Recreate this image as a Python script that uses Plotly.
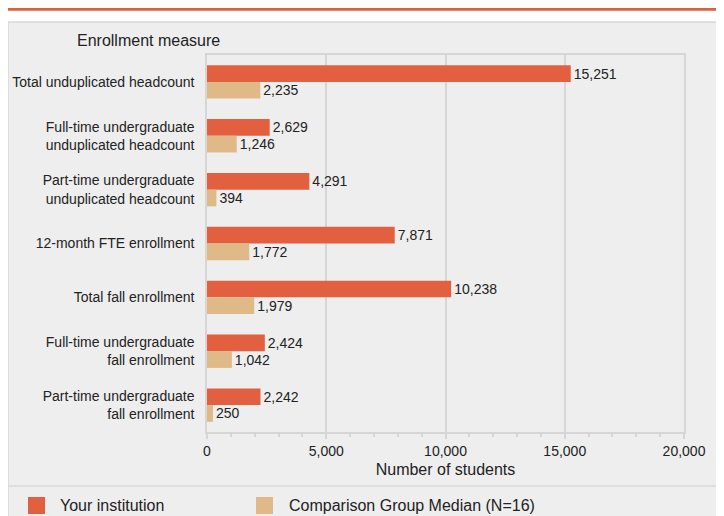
import plotly.graph_objects as go

categories = [
    "Total unduplicated headcount",
    "Full-time undergraduate<br>unduplicated headcount",
    "Part-time undergraduate<br>unduplicated headcount",
    "12-month FTE enrollment",
    "Total fall enrollment",
    "Full-time undergraduate<br>fall enrollment",
    "Part-time undergraduate<br>fall enrollment",
]
your_institution = [15251, 2629, 4291, 7871, 10238, 2424, 2242]
comparison_median = [2235, 1246, 394, 1772, 1979, 1042, 250]
series_names = ["Your institution", "Comparison Group Median (N=16)"]
x_ticks = [0, 5000, 10000, 15000, 20000]

ORANGE = "#e2603f"
TAN = "#dfb987"
GRID = "#d6d6d6"
FONT = "Liberation Sans, Arial, sans-serif"

# page body has an 8px margin; figure coords = page coords - 8
OFF = 8
W_PX, H_PX = 716, 508
L, R, T, B = 199, 40, 47, 84
PW, PH = W_PX - L - R, H_PX - T - B


def px_x(px):
    return (px - OFF - L) / PW


def px_y(py):
    return (H_PX - B - (py - OFF)) / PH


fig = go.Figure()
for name, vals, col in [(series_names[0], your_institution, ORANGE),
                        (series_names[1], comparison_median, TAN)]:
    fig.add_trace(go.Bar(
        y=categories, x=vals, name=name, orientation="h",
        marker=dict(color=col, line=dict(width=0)),
        text=[f"{v:,}" for v in vals], textposition="outside",
        textfont=dict(size=14, color="#222222", family=FONT),
        cliponaxis=False, showlegend=False,
    ))

shapes = [
    # panel
    dict(type="rect", xref="paper", yref="paper", x0=px_x(8), x1=px_x(740),
         y0=px_y(22), y1=px_y(530), fillcolor="#eeeeee",
         line=dict(color="#d9d9d9", width=1.5), layer="below"),
    # top accent line
    dict(type="line", xref="paper", yref="paper", x0=px_x(8), x1=px_x(730),
         y0=px_y(8.5), y1=px_y(8.5), line=dict(color="#d9613f", width=4.5)),
    # legend separator
    dict(type="line", xref="paper", yref="paper", x0=px_x(8), x1=px_x(730),
         y0=px_y(486), y1=px_y(486), line=dict(color="#d9d9d9", width=1.5)),
    # legend swatches
    dict(type="rect", xref="paper", yref="paper", x0=px_x(28), x1=px_x(45),
         y0=px_y(514), y1=px_y(497), fillcolor=ORANGE, line=dict(width=0)),
    dict(type="rect", xref="paper", yref="paper", x0=px_x(256), x1=px_x(273),
         y0=px_y(514), y1=px_y(497), fillcolor=TAN, line=dict(width=0)),
]

annotations = [
    dict(text="Enrollment measure", xref="paper", yref="paper", x=px_x(75),
         y=px_y(40), xanchor="left", yanchor="middle", showarrow=False,
         font=dict(size=16, color="#222222", family=FONT)),
    dict(text=series_names[0], xref="paper", yref="paper", x=px_x(58),
         y=px_y(505), xanchor="left", yanchor="middle", showarrow=False,
         font=dict(size=16, color="#222222", family=FONT)),
    dict(text=series_names[1], xref="paper", yref="paper", x=px_x(287),
         y=px_y(505), xanchor="left", yanchor="middle", showarrow=False,
         font=dict(size=16, color="#222222", family=FONT)),
]

fig.update_layout(
    width=W_PX, height=H_PX,
    margin=dict(l=L, r=R, t=T, b=B, pad=0, autoexpand=False),
    paper_bgcolor="white", plot_bgcolor="rgba(0,0,0,0)",
    barmode="group", bargap=0.38, bargroupgap=0,
    font=dict(family=FONT, size=14, color="#222222"),
    shapes=shapes, annotations=annotations,
    xaxis=dict(
        range=[0, 20000], tickvals=x_ticks,
        ticktext=[f"{v:,}" for v in x_ticks],
        showgrid=True, gridcolor=GRID, gridwidth=1.5, zeroline=False,
        showline=True, mirror=True, linecolor=GRID, linewidth=1.5,
        ticks="outside", ticklen=5, tickcolor=GRID, tickwidth=1.5,
        minor=dict(dtick=1000, ticks="outside", ticklen=3, tickcolor=GRID,
                   tickwidth=1.5, showgrid=False),
        tickfont=dict(size=14, color="#222222"),
        title=dict(text="Number of students", font=dict(size=16, color="#222222"),
                   standoff=6),
        automargin=False,
        fixedrange=True,
    ),
    yaxis=dict(
        autorange="reversed", showgrid=False, zeroline=False,
        showline=True, mirror=True, linecolor=GRID, linewidth=1.5,
        ticks="", ticklabelstandoff=8,
        tickfont=dict(size=14, color="#222222"),
        automargin=False,
        fixedrange=True,
    ),
)

fig.write_html("out.html")
